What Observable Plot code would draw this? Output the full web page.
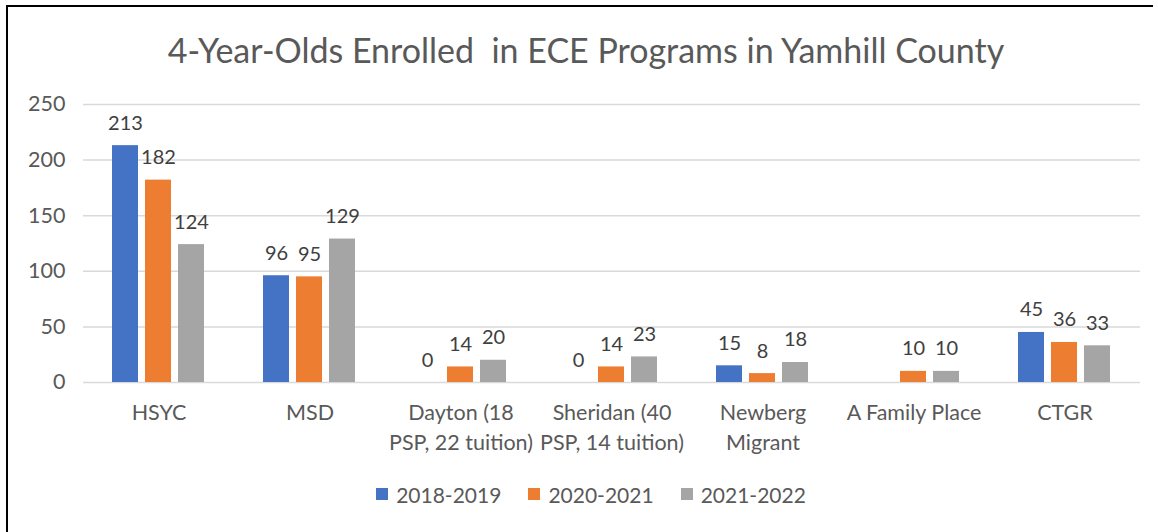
<!DOCTYPE html>
<html><head><meta charset="utf-8">
<script src="https://cdn.jsdelivr.net/npm/d3@7"></script>
<script src="https://cdn.jsdelivr.net/npm/@observablehq/plot@0.6"></script>
<style>
html,body{margin:0;padding:0;background:#fff;font-family:Lato,"Open Sans",sans-serif;}
#frame{position:absolute;left:6px;top:5px;width:1147px;height:540px;border-left:2px solid #000;border-top:2px solid #000;box-sizing:border-box;pointer-events:none;}
#title{position:absolute;left:7px;top:29px;width:1158px;text-align:center;font-size:34px;line-height:42px;color:#595959;white-space:pre;}
#chart{position:absolute;left:0;top:90px;}
#legend{position:absolute;left:12px;top:482px;width:1158px;height:24px;display:flex;justify-content:center;align-items:center;gap:27px;font-size:21px;color:#595959;}
#legend .item{display:flex;align-items:center;gap:8px;}
#legend .sw{width:12px;height:12px;display:inline-block;}
</style>
</head><body>
<div id="title">4-Year-Olds Enrolled  in ECE Programs in Yamhill County</div>
<div id="chart"></div>
<div id="legend"></div>
<div id="frame"></div>
<script>
const categories = ["HSYC","MSD","Dayton (18 PSP, 22 tuition)","Sheridan (40 PSP, 14 tuition)","Newberg Migrant","A Family Place","CTGR"];
const axisLabels = ["HSYC","MSD","Dayton (18\nPSP, 22 tuition)","Sheridan (40\nPSP, 14 tuition)","Newberg\nMigrant","A Family Place","CTGR"];
const seriesNames = ["2018-2019","2020-2021","2021-2022"];
const values2018 = [213,96,0,0,15,null,45];
const values2020 = [182,95,14,14,8,10,36];
const values2021 = [124,129,20,23,18,10,33];
const colors = ["#4472C4","#ED7D31","#A5A5A5"];
const yTicks = [0,50,100,150,200,250];

const seriesValues = [values2018, values2020, values2021];
const data = [];
categories.forEach((c, i) => {
  seriesNames.forEach((s, j) => {
    data.push({category: c, series: s, value: seriesValues[j][i]});
  });
});
const labeled = data.filter(d => d.value != null);

const chart = Plot.plot({
  width: 1158,
  height: 370,
  marginTop: 14,
  marginBottom: 78,
  marginLeft: 83,
  marginRight: 18,
  style: {fontFamily: "Lato, 'Open Sans', sans-serif", color: "#595959", background: "transparent", overflow: "visible"},
  fx: {domain: categories, padding: 0},
  x: {domain: seriesNames, paddingInner: 0.21, paddingOuter: 0.89, axis: null},
  y: {domain: [0, 250], axis: null},
  color: {domain: seriesNames, range: colors},
  marks: [
    Plot.gridY(yTicks, {stroke: "#d9d9d9", strokeOpacity: 1, strokeWidth: 1.5}),
    Plot.barY(data.filter(d => d.value != null), {fx: "category", x: "series", y: "value", fill: "series"}),
    Plot.text(labeled, {fx: "category", x: "series", y: "value", text: d => String(d.value), dy: -16, lineAnchor: "bottom", fontSize: 20, fill: "#404040"}),
    Plot.axisY({ticks: yTicks, tickSize: 0, tickPadding: 18, fontSize: 21.5, anchor: "left", label: null}),
    Plot.axisFx({anchor: "bottom", tickSize: 0, tickPadding: 16, fontSize: 21.5, lineHeight: 1.4, label: null, tickFormat: d => axisLabels[categories.indexOf(d)]})
  ]
});
document.getElementById("chart").appendChild(chart);

const legend = document.getElementById("legend");
seriesNames.forEach((s, i) => {
  const item = document.createElement("span");
  item.className = "item";
  const sw = document.createElement("span");
  sw.className = "sw";
  sw.style.background = colors[i];
  item.appendChild(sw);
  item.appendChild(document.createTextNode(s));
  legend.appendChild(item);
});
</script>
</body></html>
